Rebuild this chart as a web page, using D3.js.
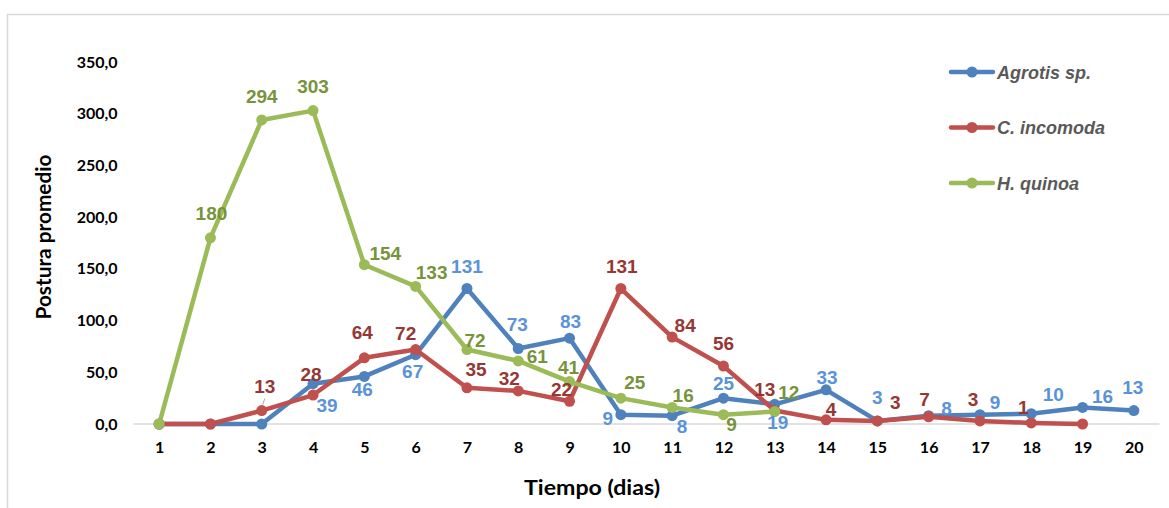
<!DOCTYPE html>
<html>
<head>
<meta charset="utf-8">
<script src="https://cdn.jsdelivr.net/npm/d3@7"></script>
<style>
  html, body { margin: 0; padding: 0; background: #ffffff; }
  svg { display: block; }
</style>
</head>
<body>
<svg id="chart" width="1169" height="508"></svg>
<script>
// Days of observation (category axis)
const days = [1, 2, 3, 4, 5, 6, 7, 8, 9, 10, 11, 12, 13, 14, 15, 16, 17, 18, 19, 20];

// Mean egg laying per day for each species (null = not recorded)
const agrotis   = [0, 0, 0, 39, 46, 67, 131, 73, 83, 9, 8, 25, 19, 33, 3, 8, 9, 10, 16, 13];
const incomoda  = [0, 0, 13, 28, 64, 72, 35, 32, 22, 131, 84, 56, 13, 4, 3, 7, 3, 1, 0, null];
const quinoa    = [0, 180, 294, 303, 154, 133, 72, 61, 41, 25, 16, 9, 12, null, null, null, null, null, null, null];

const seriesNames = ["Agrotis sp.", "C. incomoda", "H. quinoa"];

// Y axis ticks
const yTicks = [0, 50, 100, 150, 200, 250, 300, 350];

// Data-label placement, [dx, dy] from each marker centre to the label centre
const agrotisLabelShift = [[0,0],[0,0],[0,0],[14,21],[-2,13],[-3,16],[0,-23],[-1,-24],[1,-17],[-13,3],
  [10,10],[0,-15],[3,18],[1,-13],[0,-24],[18,-8],[15,-13],[22,-20],[20,-11],[-1,-24]];
const incomodaLabelShift = [[0,0],[0,0],[3,-25],[-2,-21],[-2,-26],[-10,-17],[9,-19],[-9,-13],[-8,-12],[1,-23],
  [13,-12],[0,-23],[-10,-22],[5,-11],[18,-19],[-4,-18],[-7,-22],[-8,-16],[0,0],[0,0]];
const quinoaLabelShift = [[0,0],[1,-25],[0,-24],[0,-25],[21,-12],[16,-14],[8,-10],[19,-5],[-1,-15],[14,-16],
  [11,-12],[8,9],[14,-20],[0,0],[0,0],[0,0],[0,0],[0,0],[0,0],[0,0]];

const series = [
  { name: seriesNames[0], values: agrotis,  shift: agrotisLabelShift,  line: "#4F81BD", label: "#5A93D8" },
  { name: seriesNames[1], values: incomoda, shift: incomodaLabelShift, line: "#C0504D", label: "#953735" },
  { name: seriesNames[2], values: quinoa,   shift: quinoaLabelShift,   line: "#9BBB59", label: "#77933C" }
];

const svg = d3.select("#chart");

// Outer chart frame
svg.append("rect")
  .attr("x", 7.5).attr("y", 14.5)
  .attr("width", 1200).attr("height", 520)
  .attr("fill", "#ffffff")
  .attr("stroke", "#d9d9d9").attr("stroke-width", 1.5);

const plot = { left: 133.5, right: 1159.5, top: 62, bottom: 424 };

const x = d3.scalePoint()
  .domain(days)
  .range([plot.left, plot.right])
  .padding(0.5);

const y = d3.scaleLinear()
  .domain([0, 350])
  .range([plot.bottom, plot.top]);

// Y axis labels (no axis line, no gridlines)
const fmt = d => d3.format(".1f")(d).replace(".", ",");
const yAxis = svg.append("g")
  .attr("transform", `translate(${plot.left - 16},0)`)
  .call(d3.axisLeft(y).tickValues(yTicks).tickFormat(fmt).tickSize(0).tickPadding(0));
yAxis.select(".domain").remove();
yAxis.selectAll("text")
  .attr("font-family", "Lato, 'Open Sans', sans-serif")
  .attr("font-weight", "bold")
  .attr("font-size", 16)
  .attr("fill", "#000000");

// Baseline at zero
svg.append("line")
  .attr("x1", plot.left).attr("x2", plot.right)
  .attr("y1", y(0)).attr("y2", y(0))
  .attr("stroke", "#d9d9d9").attr("stroke-width", 1.5);

// X axis labels
const xAxis = svg.append("g")
  .attr("transform", `translate(0,${plot.bottom + 18})`)
  .call(d3.axisBottom(x).tickSize(0).tickPadding(0));
xAxis.select(".domain").remove();
xAxis.selectAll("text")
  .attr("font-family", "Lato, 'Open Sans', sans-serif")
  .attr("font-weight", "bold")
  .attr("font-size", 16)
  .attr("fill", "#000000");

// Axis titles
svg.append("text")
  .attr("x", 592).attr("y", 495)
  .attr("text-anchor", "middle")
  .attr("font-family", "Lato, 'Open Sans', sans-serif")
  .attr("font-weight", "bold")
  .attr("font-size", 21)
  .attr("textLength", 136)
  .attr("lengthAdjust", "spacingAndGlyphs")
  .attr("fill", "#000000")
  .text("Tiempo (dias)");

svg.append("text")
  .attr("transform", "translate(51,237) rotate(-90)")
  .attr("text-anchor", "middle")
  .attr("font-family", "Lato, 'Open Sans', sans-serif")
  .attr("font-weight", "bold")
  .attr("font-size", 20)
  .attr("textLength", 165)
  .attr("lengthAdjust", "spacingAndGlyphs")
  .attr("fill", "#000000")
  .text("Postura promedio");

// Lines and markers
const lineGen = d3.line()
  .defined(d => d.v !== null)
  .x(d => x(d.day))
  .y(d => y(d.v));

series.forEach(s => {
  const pts = days.map((day, i) => ({ day, v: s.values[i], shift: s.shift[i] }));
  const g = svg.append("g");
  g.append("path")
    .datum(pts)
    .attr("d", lineGen)
    .attr("fill", "none")
    .attr("stroke", s.line)
    .attr("stroke-width", 4.5)
    .attr("stroke-linejoin", "round")
    .attr("stroke-linecap", "round");
  g.selectAll("circle")
    .data(pts.filter(d => d.v !== null))
    .join("circle")
    .attr("cx", d => x(d.day))
    .attr("cy", d => y(d.v))
    .attr("r", 5.5)
    .attr("fill", s.line);
  s.points = pts;
});

// Leader line for the C. incomoda day-3 label
{
  const i = 2;
  const px = x(days[i]), py = y(incomoda[i]);
  svg.append("line")
    .attr("x1", px + 1).attr("y1", py - 6)
    .attr("x2", px + 3).attr("y2", py - 12)
    .attr("stroke", "#a6a6a6").attr("stroke-width", 1);
}

// Data labels (only non-zero values carry a label)
series.forEach(s => {
  svg.append("g")
    .selectAll("text")
    .data(s.points.filter(d => d.v !== null && d.v > 0))
    .join("text")
    .attr("x", d => x(d.day) + d.shift[0])
    .attr("y", d => y(d.v) + d.shift[1] + 7)
    .attr("text-anchor", "middle")
    .attr("font-family", "'Liberation Sans', Arial, sans-serif")
    .attr("font-weight", "bold")
    .attr("font-size", 19)
    .attr("fill", s.label)
    .text(d => d3.format("d")(d.v));
});

// Legend
const legend = svg.append("g");
series.forEach((s, i) => {
  const ly = 72 + i * 55.5;
  legend.append("line")
    .attr("x1", 951).attr("x2", 993)
    .attr("y1", ly).attr("y2", ly)
    .attr("stroke", s.line).attr("stroke-width", 4.5)
    .attr("stroke-linecap", "round");
  legend.append("circle")
    .attr("cx", 972).attr("cy", ly).attr("r", 5.5)
    .attr("fill", s.line);
  legend.append("text")
    .attr("x", 997).attr("y", ly + 6.5)
    .attr("font-family", "'Liberation Sans', Arial, sans-serif")
    .attr("font-weight", "bold")
    .attr("font-style", "italic")
    .attr("font-size", 18)
    .attr("fill", "#595959")
    .text(s.name);
});
</script>
</body>
</html>
